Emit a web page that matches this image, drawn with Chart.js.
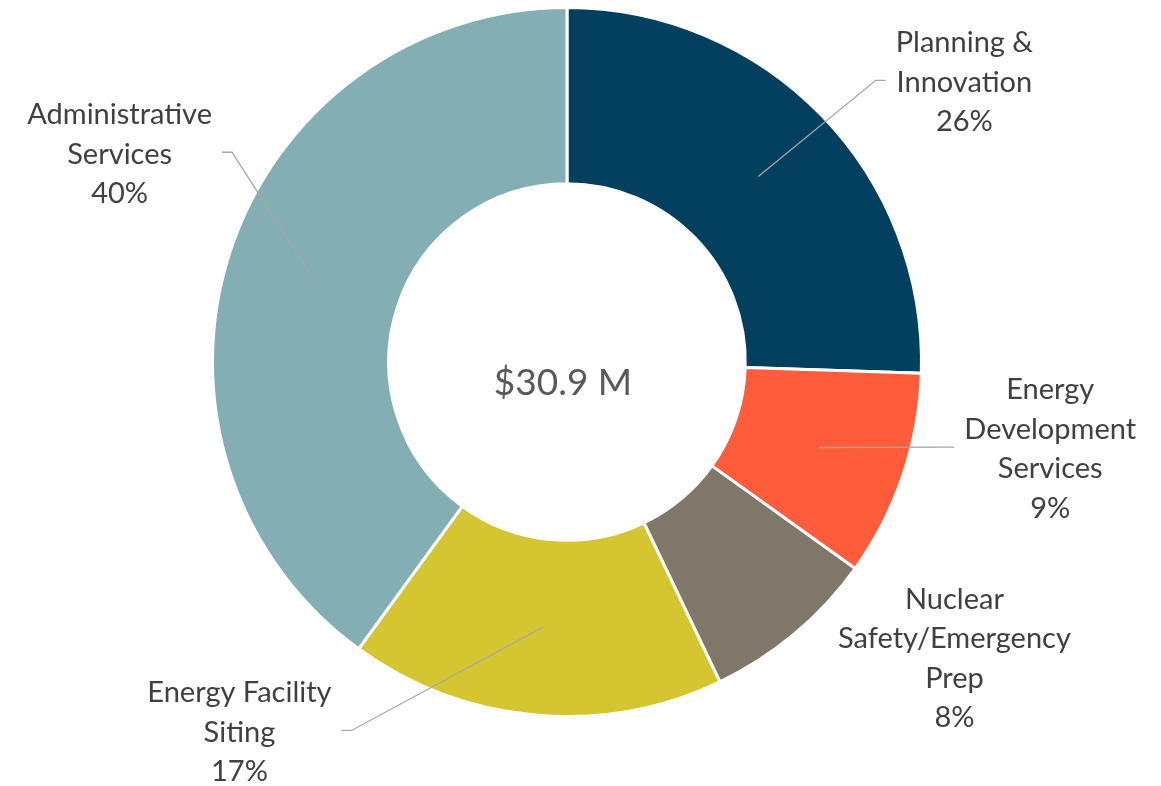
<!DOCTYPE html>
<html>
<head>
<meta charset="utf-8">
<script src="https://cdn.jsdelivr.net/npm/chart.js@4.4.1/dist/chart.umd.min.js"></script>
<style>
  html, body { margin: 0; padding: 0; background: #ffffff; }
  #wrap { width: 1161px; height: 786px; position: relative; }
</style>
</head>
<body>
<div id="wrap"><canvas id="c" width="1161" height="786"></canvas></div>
<script>
const categories = [
  ["Planning &", "Innovation"],
  ["Energy", "Development", "Services"],
  ["Nuclear", "Safety/Emergency", "Prep"],
  ["Energy Facility", "Siting"],
  ["Administrative", "Services"]
];
const shares = [25.5, 9.4, 8.0, 17.1, 40.0];
const percentLabels = ["26%", "9%", "8%", "17%", "40%"];
const totalLabel = "$30.9 M";
const colors = ["#033F5F", "#FF5C3B", "#80776A", "#D5C631", "#83AEB3"];

// label block centres, relative to doughnut centre, in units of the outer radius
const labelOffsets = [
  { dx: 1.121, dy: -0.789, leader: true },
  { dx: 1.363, dy: 0.246, leader: true },
  { dx: 1.093, dy: 0.837, leader: false },
  { dx: -0.924, dy: 1.045, leader: true },
  { dx: -1.262, dy: -0.586, leader: true }
];

const FONT = '"Lato", "Open Sans", sans-serif';
const LABEL_SIZE = 29;
const LINE_H = 39.5;

const labelPlugin = {
  id: 'labelPlugin',
  afterDatasetsDraw(chart) {
    const ctx = chart.ctx;
    const meta = chart.getDatasetMeta(0);
    ctx.save();
    meta.data.forEach((arc, i) => {
      const p = arc.getProps(['x', 'y', 'startAngle', 'endAngle', 'innerRadius', 'outerRadius'], true);
      const mid = (p.startAngle + p.endAngle) / 2;
      const rMid = (p.innerRadius + p.outerRadius) / 2;
      const ax = p.x + Math.cos(mid) * rMid;
      const ay = p.y + Math.sin(mid) * rMid;
      const off = labelOffsets[i];
      const cx = p.x + off.dx * p.outerRadius;
      const cy = p.y + off.dy * p.outerRadius;
      const lines = categories[i].concat([percentLabels[i]]);
      ctx.font = LABEL_SIZE + 'px ' + FONT;
      let w = 0;
      lines.forEach(l => { w = Math.max(w, ctx.measureText(l).width); });
      if (off.leader) {
        const side = cx > ax ? -1 : 1;
        const ex = cx + side * (w / 2 + 10);
        const bx = ex + side * 10;
        const ey = cy - 2;
        ctx.strokeStyle = '#A6A6A6';
        ctx.lineWidth = 1.3;
        ctx.beginPath();
        ctx.moveTo(ax, ay);
        ctx.lineTo(bx, ey);
        ctx.lineTo(ex, ey);
        ctx.stroke();
      }
      ctx.fillStyle = '#404040';
      ctx.textAlign = 'center';
      ctx.textBaseline = 'middle';
      const top = cy - (lines.length - 1) * LINE_H / 2;
      lines.forEach((l, k) => ctx.fillText(l, cx, top + k * LINE_H));
    });
    // centre total
    const a0 = meta.data[0];
    ctx.font = '37px ' + FONT;
    ctx.fillStyle = '#595959';
    ctx.textAlign = 'center';
    ctx.textBaseline = 'middle';
    ctx.fillText(totalLabel, a0.x - 4, a0.y + 21);
    ctx.restore();
  }
};

new Chart(document.getElementById('c'), {
  type: 'doughnut',
  data: {
    labels: categories.map(c => c.join(' ')),
    datasets: [{
      data: shares,
      backgroundColor: colors,
      borderColor: '#ffffff',
      borderWidth: 3
    }]
  },
  options: {
    responsive: false,
    animation: false,
    cutout: '50.3%',
    layout: { padding: { top: 6, bottom: 68, left: 0, right: 27 } },
    plugins: {
      legend: { display: false },
      tooltip: { enabled: false }
    }
  },
  plugins: [labelPlugin]
});
</script>
</body>
</html>
